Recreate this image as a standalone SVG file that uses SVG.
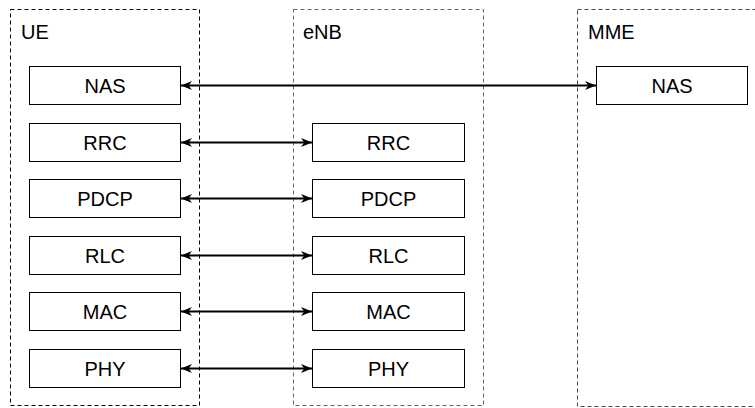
<svg xmlns="http://www.w3.org/2000/svg" width="755" height="408" viewBox="0 0 755 408">
<defs>
<style>
.cont{fill:none;stroke-width:1;stroke-dasharray:4 3}
.box rect{fill:#fff;stroke:#000;stroke-width:1}
text{font-family:"Liberation Sans",Arial,sans-serif;font-size:20px;fill:#000}
.box text{text-anchor:middle}
.conn line{stroke:#000;stroke-width:2;marker-start:url(#ah);marker-end:url(#ah)}
</style>
<marker id="ah" viewBox="0 0 10 10" refX="10" refY="5" markerWidth="11" markerHeight="9" markerUnits="userSpaceOnUse" orient="auto-start-reverse" preserveAspectRatio="none">
<path d="M0,0 L10,5 L0,10 L3,5 Z" fill="#000"/>
</marker>
</defs>
<g id="UE">
<rect class="cont" x="10.5" y="9.5" width="189" height="396" stroke="#000"/>
<text x="21" y="39">UE</text>
</g>
<g id="eNB">
<rect class="cont" x="293.5" y="9.5" width="190" height="396" stroke="#666"/>
<text x="303" y="39">eNB</text>
</g>
<g id="MME">
<rect class="cont" x="577.5" y="9.5" width="190" height="397" stroke="#444"/>
<text x="588" y="39">MME</text>
</g>
<g id="ue-nas" class="box"><rect x="29.5" y="66.5" width="151" height="38"/><text x="105" y="92.5">NAS</text></g>
<g id="ue-rrc" class="box"><rect x="29.5" y="123.5" width="151" height="38"/><text x="105" y="149.5">RRC</text></g>
<g id="ue-pdcp" class="box"><rect x="29.5" y="179.5" width="151" height="38"/><text x="105" y="205.5">PDCP</text></g>
<g id="ue-rlc" class="box"><rect x="29.5" y="236.5" width="151" height="38"/><text x="105" y="262.5">RLC</text></g>
<g id="ue-mac" class="box"><rect x="29.5" y="292.5" width="151" height="38"/><text x="105" y="318.5">MAC</text></g>
<g id="ue-phy" class="box"><rect x="29.5" y="349.5" width="151" height="38"/><text x="105" y="375.5">PHY</text></g>
<g id="enb-rrc" class="box"><rect x="312.5" y="123.5" width="152" height="38"/><text x="388.5" y="149.5">RRC</text></g>
<g id="enb-pdcp" class="box"><rect x="312.5" y="179.5" width="152" height="38"/><text x="388.5" y="205.5">PDCP</text></g>
<g id="enb-rlc" class="box"><rect x="312.5" y="236.5" width="152" height="38"/><text x="388.5" y="262.5">RLC</text></g>
<g id="enb-mac" class="box"><rect x="312.5" y="292.5" width="152" height="38"/><text x="388.5" y="318.5">MAC</text></g>
<g id="enb-phy" class="box"><rect x="312.5" y="349.5" width="152" height="38"/><text x="388.5" y="375.5">PHY</text></g>
<g id="mme-nas" class="box"><rect x="596.5" y="66.5" width="151" height="38"/><text x="672" y="92.5">NAS</text></g>
<g id="connectors" class="conn">
<line x1="181" y1="85.5" x2="596" y2="85.5"/>
<line x1="181" y1="142.5" x2="312" y2="142.5"/>
<line x1="181" y1="198.5" x2="312" y2="198.5"/>
<line x1="181" y1="255.5" x2="312" y2="255.5"/>
<line x1="181" y1="311.5" x2="312" y2="311.5"/>
<line x1="181" y1="368.5" x2="312" y2="368.5"/>
</g>
</svg>
